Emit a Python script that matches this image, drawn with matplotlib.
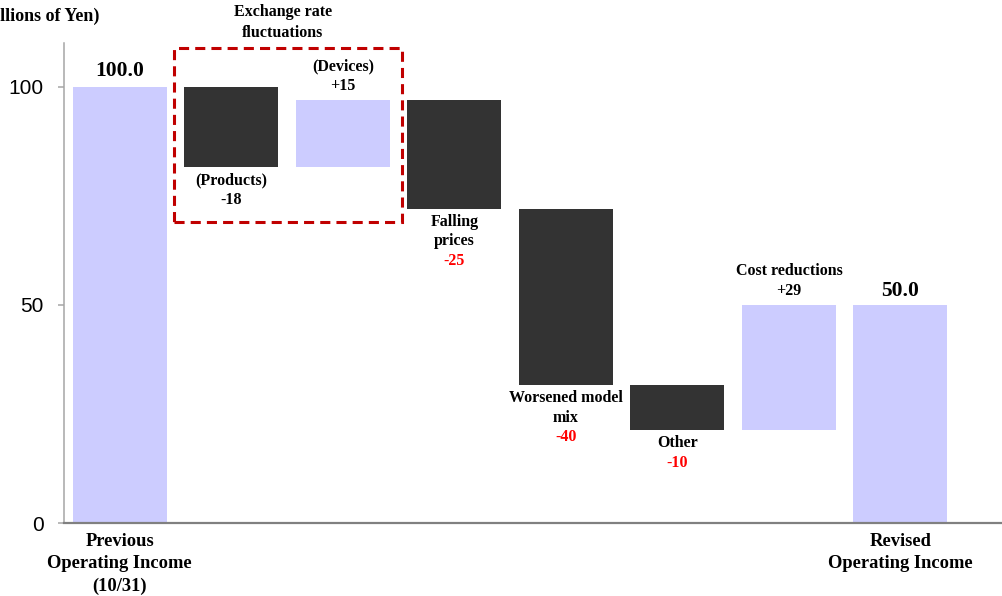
import numpy as np
import matplotlib
matplotlib.use('Agg')
import matplotlib.pyplot as plt
from matplotlib.patches import Rectangle
from matplotlib.transforms import blended_transform_factory

# operating income bridge (billions of yen)
start_label = 'Previous\nOperating Income\n(10/31)'
end_label = 'Revised\nOperating Income'
start_value = 100.0

step_names = ['(Products)', '(Devices)', 'Falling\nprices', 'Worsened model\nmix', 'Other', 'Cost reductions']
step_deltas = [-18.4, 15.4, -25.0, -40.4, -10.3, 28.7]
step_value_red = [False, False, True, True, True, False]

light = '#ccccff'
dark = '#333333'
serif = 'Liberation Serif'

levels = start_value + np.cumsum(step_deltas)
end_value = levels[-1]
prev_levels = np.concatenate([[start_value], levels[:-1]])

fig = plt.figure(figsize=(10.03, 5.96), dpi=100)
ax = fig.add_axes([64 / 1003, 1 - 523.3 / 596, 1 - 64 / 1003, (523.3 - 43) / 596])

n_steps = len(step_deltas)
xs = np.arange(n_steps + 2)
w = 0.844

# totals
ax.bar(xs[0], start_value, width=w, color=light)
ax.bar(xs[-1], end_value, width=w, color=light)

# floating steps
for i, d in enumerate(step_deltas):
    lo = min(prev_levels[i], levels[i])
    ax.bar(xs[i + 1], abs(d), bottom=lo, width=w, color=dark if d < 0 else light)

ax.set_xlim(-0.5, 7.92)
ax.set_ylim(0, 110)


def put(x, y, dy, s, color='black', size=11.5):
    ax.annotate(s, xy=(x, y), xytext=(0, dy), textcoords='offset pixels',
                ha='center', va='center', fontsize=size, fontweight='bold',
                family=serif, color=color, annotation_clip=False)


line_h = 19.5
for i, d in enumerate(step_deltas):
    x = xs[i + 1]
    lines = step_names[i].split('\n')
    val = '{:+.0f}'.format(d)
    vcol = '#ff0000' if step_value_red[i] else 'black'
    if d < 0:
        y = min(prev_levels[i], levels[i])
        for k, s in enumerate(lines):
            put(x, y, -(13 + k * line_h), s)
        put(x, y, -(13 + len(lines) * line_h), val, vcol)
    else:
        y = max(prev_levels[i], levels[i])
        put(x, y, 14, val, vcol)
        for k, s in enumerate(reversed(lines)):
            put(x, y, 14 + (k + 1) * line_h, s)

put(xs[0], start_value, 16, '{:.1f}'.format(start_value), size=15.5)
put(xs[-1], end_value, 14, '{:.1f}'.format(end_value), size=15.5)

# exchange rate group
box = Rectangle((0.49, 69.1), 2.04, 39.8, fill=False, edgecolor='#c00000',
                linewidth=2.2, linestyle=(0, (3.3, 2.0)), clip_on=False)
ax.add_patch(box)
ax.text(1.46, 1 - 22.5 / 596, 'Exchange rate\nfluctuations',
        transform=blended_transform_factory(ax.transData, fig.transFigure),
        ha='center', va='center', fontsize=11.5, fontweight='bold', family=serif,
        linespacing=1.35)

fig.text(99 / 1003, 1 - 16 / 596, '(Billions of Yen)', ha='right', va='center',
         fontsize=13, fontweight='bold', family=serif)

# axes styling
for side in ['top', 'right']:
    ax.spines[side].set_visible(False)
ax.spines['left'].set_color('#a6a6a6')
ax.spines['left'].set_linewidth(1.1)
ax.spines['bottom'].set_color('#808080')
ax.spines['bottom'].set_linewidth(1.6)

ax.set_yticks([0, 50, 100])
ax.tick_params(axis='y', colors='#a6a6a6', length=4.5, width=1.1, pad=10,
               labelsize=15, labelcolor='black')
for t in ax.get_yticklabels():
    t.set_family('Liberation Sans')

ax.set_xticks([xs[0], xs[-1]])
ax.set_xticklabels([start_label, end_label], fontsize=13.3, fontweight='bold',
                   family=serif, linespacing=1.4)
ax.tick_params(axis='x', length=0, pad=7)

fig.savefig('out.png', dpi=100)
